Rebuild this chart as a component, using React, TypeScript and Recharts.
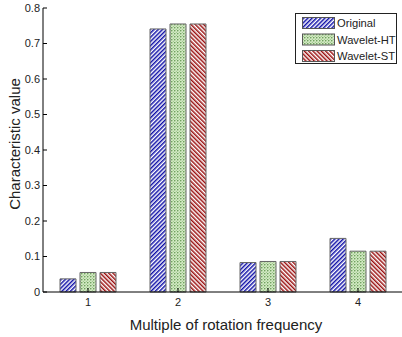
import { Bar, BarChart, XAxis, YAxis } from "recharts";

// Characteristic value per multiple of rotation frequency
const categories = ["1", "2", "3", "4"];
const original = [0.037, 0.741, 0.083, 0.151];
const waveletHT = [0.055, 0.755, 0.086, 0.115];
const waveletST = [0.055, 0.755, 0.086, 0.115];
const yTicks = [0, 0.1, 0.2, 0.3, 0.4, 0.5, 0.6, 0.7, 0.8];

const series = [
  { key: "original", name: "Original", fill: "url(#hatch-blue)" },
  { key: "waveletHT", name: "Wavelet-HT", fill: "url(#dots-green)" },
  { key: "waveletST", name: "Wavelet-ST", fill: "url(#hatch-red)" },
];

const data = categories.map((c, i) => ({
  cat: c,
  original: original[i],
  waveletHT: waveletHT[i],
  waveletST: waveletST[i],
}));

const FONT = "'Liberation Sans', Arial, sans-serif";
const tickStyle = { fontSize: 11, fill: "#222", fontFamily: FONT };

function Patterns() {
  return (
    <defs>
      <pattern id="hatch-blue" width="3" height="3" patternUnits="userSpaceOnUse" patternTransform="rotate(45)">
        <rect width="3" height="3" fill="#ffffff" />
        <rect width="1.5" height="3" fill="#1010a8" />
      </pattern>
      <pattern id="hatch-red" width="3" height="3" patternUnits="userSpaceOnUse" patternTransform="rotate(-45)">
        <rect width="3" height="3" fill="#ffffff" />
        <rect width="1.5" height="3" fill="#9a1010" />
      </pattern>
      <pattern id="dots-green" width="3" height="3" patternUnits="userSpaceOnUse">
        <rect width="3" height="3" fill="#d3eac4" />
        <circle cx="0.8" cy="0.8" r="0.7" fill="#4f8a3c" />
        <circle cx="2.3" cy="2.3" r="0.5" fill="#7fae6b" />
      </pattern>
    </defs>
  );
}

// legend drawn as an overlay; swatches reuse the chart's patterns
function LegendBox() {
  return (
    <svg width={102} height={51} style={{ display: "block" }}>
      <rect x={0.5} y={0.5} width={101} height={50} fill="#fff" stroke="#222" />
      {series.map((s, i) => (
        <g key={s.key}>
          <rect x={7.5} y={4.5 + i * 16.5} width={32} height={11} fill={s.fill} stroke="#555" />
          <text x={42} y={10 + i * 16.5} dominantBaseline="central" fontSize={11.2} fontFamily={FONT} fill="#222">
            {s.name}
          </text>
        </g>
      ))}
    </svg>
  );
}

export default function App() {
  return (
    <div style={{ position: "absolute", left: 0, top: 0, width: 402, height: 337, overflow: "hidden", background: "#fff" }}>
      <BarChart width={406} height={337} data={data} margin={{ top: 8, right: 3, left: 0, bottom: 0 }} barSize={16} barGap={4}>
        <Patterns />
        <XAxis
          dataKey="cat"
          height={45}
          tickSize={-4}
          tickMargin={10}
          tick={tickStyle}
          stroke="#000"
          tickLine={{ stroke: "#000" }}
          label={{
            content: () => (
              <text x={226} y={330} textAnchor="middle" fontSize={15} fontFamily={FONT} fill="#222">
                Multiple of rotation frequency
              </text>
            ),
          }}
        />
        <XAxis xAxisId="top" dataKey="cat" orientation="top" height={0} tickSize={-4} tick={false} stroke="#000" />
        <YAxis
          width={43}
          domain={[0, 0.8]}
          ticks={yTicks}
          interval={0}
          tickSize={-4}
          tickMargin={7}
          tick={tickStyle}
          tickFormatter={(v: number) => (v === 0 ? "0" : v.toFixed(1))}
          stroke="#000"
          label={{
            content: () => (
              <text x={14} y={144} transform="rotate(-90 14 144)" textAnchor="middle" dominantBaseline="central" fontSize={15} fontFamily={FONT} fill="#222">
                Characteristic value
              </text>
            ),
          }}
        />
        <YAxis yAxisId="right" orientation="right" width={0} domain={[0, 0.8]} ticks={yTicks} tickSize={-4} tick={false} stroke="#000" />
        {series.map((s) => (
          <Bar key={s.key} dataKey={s.key} name={s.name} fill={s.fill} stroke="#666" strokeWidth={1} isAnimationActive={false} />
        ))}
      </BarChart>
      <div style={{ position: "absolute", left: 295, top: 13 }}>
        <LegendBox />
      </div>
    </div>
  );
}
